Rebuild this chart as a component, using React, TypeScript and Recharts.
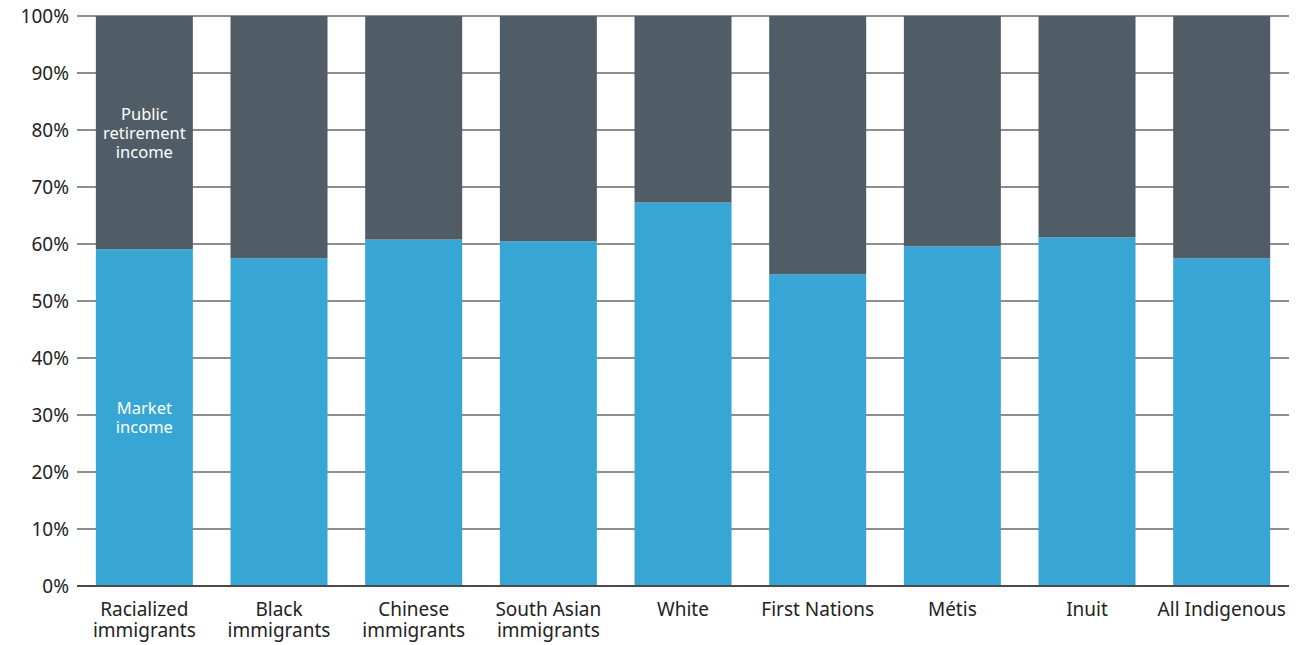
import { BarChart, Bar, XAxis, YAxis, CartesianGrid, LabelList } from 'recharts';

const categories = [
  'Racialized\nimmigrants',
  'Black\nimmigrants',
  'Chinese\nimmigrants',
  'South Asian\nimmigrants',
  'White',
  'First Nations',
  'Métis',
  'Inuit',
  'All Indigenous',
];
const marketIncome = [59.1, 57.5, 60.8, 60.5, 67.3, 54.7, 59.6, 61.2, 57.5];
const publicIncome = marketIncome.map((v) => 100 - v);
const yTicks = [0, 10, 20, 30, 40, 50, 60, 70, 80, 90, 100];
const seriesLabels = { market: 'Market\nincome', public: 'Public\nretirement\nincome' };

const data = categories.map((name, i) => ({
  name,
  market: marketIncome[i],
  public: publicIncome[i],
}));

const FONT = '"Noto Sans", sans-serif';

const XTick = ({ x, y, payload }: any) => {
  const lines = String(payload.value).split('\n');
  return (
    <text x={x} y={y + 22} textAnchor="middle" fill="#222" fontSize={19} fontFamily={FONT}>
      {lines.map((l, i) => (
        <tspan key={i} x={x} dy={i === 0 ? 0 : 21}>
          {l}
        </tspan>
      ))}
    </text>
  );
};

const inBarLabel = (text: string) => (props: any) => {
  const { x, y, width, height, index } = props;
  if (index !== 0) return null;
  const lines = text.split('\n');
  const lh = 19;
  const cx = x + width / 2;
  const startY = y + height / 2 - ((lines.length - 1) * lh) / 2 + 6;
  return (
    <text x={cx} y={startY} textAnchor="middle" fill="#fff" fontSize={16.5} fontFamily={FONT}>
      {lines.map((l, i) => (
        <tspan key={i} x={cx} dy={i === 0 ? 0 : lh}>
          {l}
        </tspan>
      ))}
    </text>
  );
};

export default function App() {
  return (
    <div style={{ position: 'absolute', left: 0, top: 0, width: 1304, height: 645, background: '#fff' }}>
      <BarChart
        width={1304}
        height={645}
        data={data}
        margin={{ top: 16, right: 15, left: 0, bottom: 4 }}
        barCategoryGap="14%"
      >
        <CartesianGrid vertical={false} stroke="#8e8e8e" strokeWidth={2} />
        <XAxis
          dataKey="name"
          tick={<XTick />}
          tickLine={false}
          axisLine={{ stroke: '#4a4a4a', strokeWidth: 2 }}
          height={55}
          interval={0}
        />
        <YAxis
          width={77}
          domain={[0, 100]}
          ticks={yTicks}
          tickFormatter={(v) => `${v}%`}
          tickLine={false}
          axisLine={false}
          tick={{ fill: '#222', fontSize: 19, fontFamily: FONT }}
          interval={0}
        />
        <Bar dataKey="market" stackId="a" fill="#37a6d5" isAnimationActive={false}>
          <LabelList dataKey="market" content={inBarLabel(seriesLabels.market)} />
        </Bar>
        <Bar dataKey="public" stackId="a" fill="#505d66" isAnimationActive={false}>
          <LabelList dataKey="public" content={inBarLabel(seriesLabels.public)} />
        </Bar>
      </BarChart>
    </div>
  );
}
